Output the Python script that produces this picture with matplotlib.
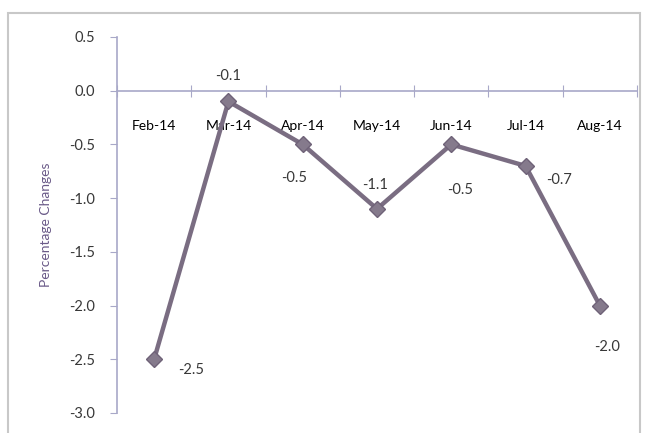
import matplotlib
matplotlib.use("Agg")
import matplotlib.pyplot as plt
from matplotlib.patches import Rectangle

months = ["Feb-14", "Mar-14", "Apr-14", "May-14", "Jun-14", "Jul-14", "Aug-14"]
values = [-2.5, -0.1, -0.5, -1.1, -0.5, -0.7, -2.0]
yticks = [0.5, 0.0, -0.5, -1.0, -1.5, -2.0, -2.5, -3.0]
# label offsets in pixels (dx, dy)
label_offsets = [(37, -11), (0, 25), (-9, -34), (-2, 24), (9, -46), (33, -14), (7, -41)]

plt.rcParams['font.family'] = ['Lato', 'DejaVu Sans']

fig = plt.figure(figsize=(6.45, 4.33), dpi=100)
fig.patch.set_facecolor('white')
fig.patches.append(Rectangle((8/645, -0.05), (640-8)/645, 1 - 13/433 + 0.05,
                             transform=fig.transFigure, fill=False,
                             edgecolor='#c8c8c8', linewidth=1.5))

ax = fig.add_axes([117/645, 1 - 413/433, (637-117)/645, (413-37)/433])
x = list(range(len(months)))
line_color = '#7a6d82'
ax.plot(x, values, color=line_color, linewidth=3.2, marker='D', markersize=8,
        markerfacecolor='#857a8c', markeredgecolor='#6f6278', zorder=3)

tc = '#383838'
fs = 10.5
for xi, v, (dx, dy) in zip(x, values, label_offsets):
    ax.annotate(f"{v:.1f}", (xi, v), xytext=(dx, dy), textcoords='offset pixels',
                ha='center', va='center', fontsize=fs, color=tc)

ax.set_xlim(-0.5, 6.5)
ax.set_ylim(-3.0, 0.5)
ax.set_yticks(yticks)
ax.set_yticklabels([f"{t:.1f}" for t in yticks], fontsize=fs, color=tc)
ax.set_xticks([i - 0.5 for i in range(len(months) + 1)])
ax.set_xticklabels([])
ax.set_xticks(x, minor=True)
ax.set_xticklabels(months, minor=True, fontsize=fs, color=tc)
ax.tick_params(axis='x', which='minor', length=0, pad=21)
ax.tick_params(axis='x', which='major', direction='inout', length=8, color='#a8a8c8')
ax.tick_params(axis='y', direction='out', length=5, color='#a8a8c8', pad=11)

for s in ['top', 'right']:
    ax.spines[s].set_visible(False)
ax.spines['bottom'].set_position(('data', 0))
ax.spines['bottom'].set_color('#a8a8c8')
ax.spines['left'].set_color('#a8a8c8')
ax.spines['bottom'].set_linewidth(1.2)
ax.spines['left'].set_linewidth(1.2)
ax.patch.set_alpha(0)

ax.set_ylabel("Percentage Changes", fontsize=10, color='#6a5a88', labelpad=12)

fig.savefig("out.png", dpi=100)
